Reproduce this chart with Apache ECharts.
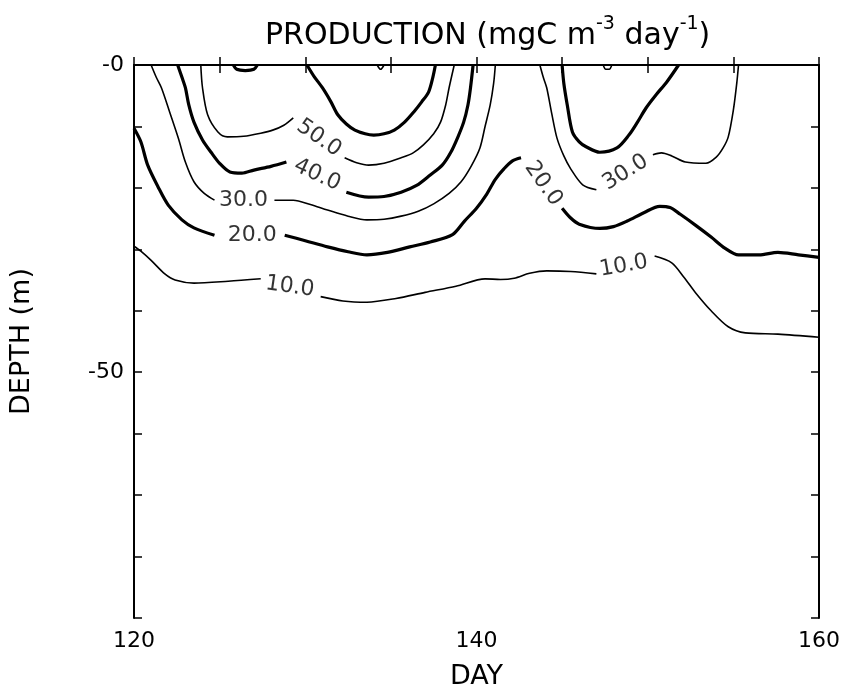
<!DOCTYPE html>
<html>
<head>
<meta charset="utf-8">
<script src="https://cdn.jsdelivr.net/npm/echarts@6/dist/echarts.min.js"></script>
<style>html,body{margin:0;padding:0;background:#fff}#c{width:843px;height:698px}</style>
</head>
<body>
<div id="c"></div>
<script>
// ---- axis ticks / labels ----
const xTickLabels = [120, 140, 160];
const yTickLabels = {"0": "-0", "-50": "-50"};

// ---- contour lines (day, depth) ----
const c10_a = [[120.0,-29.5],[120.4,-30.3],[121.0,-31.8],[121.8,-34.0],[122.4,-35.0],[123.5,-35.5],[125.5,-35.2],[127.4,-34.8]];
const c10_b = [[130.9,-37.7],[132.2,-38.4],[133.6,-38.6],[135.3,-38.0],[137.0,-37.0],[138.8,-36.0],[140.5,-34.8],[141.4,-34.9],[142.2,-34.7],[143.1,-33.9],[144.1,-33.5],[145.5,-33.6],[147.0,-34.0]];
const c10_c = [[150.4,-31.1],[151.4,-32.2],[152.1,-34.5],[152.8,-37.1],[153.7,-40.0],[154.7,-42.6],[155.7,-43.6],[157.6,-43.8],[160.0,-44.3]];

const c20_a = [[120.0,-10.3],[120.4,-12.5],[120.8,-16.3],[121.4,-19.8],[122.0,-22.8],[122.8,-25.2],[123.5,-26.5],[124.7,-27.7]];
const c20_b = [[128.8,-27.7],[130.0,-28.6],[131.3,-29.6],[132.5,-30.4],[133.6,-30.9],[134.8,-30.5],[136.1,-29.6],[137.3,-28.8],[138.6,-27.6],[139.3,-25.4],[140.0,-23.3],[140.6,-21.0],[141.1,-18.6],[141.6,-16.9],[142.1,-15.6],[142.6,-15.1]];
const c20_c = [[145.0,-23.3],[145.5,-24.9],[146.0,-25.9],[147.2,-26.6],[148.0,-26.3],[148.8,-25.4],[149.8,-24.0],[150.7,-23.0],[151.3,-23.2],[151.9,-24.3],[152.8,-26.1],[153.7,-28.0],[154.5,-29.8],[155.3,-30.9],[156.5,-30.9],[157.6,-30.5],[158.8,-30.9],[160.0,-31.3]];

const c30_a = [[121.0,0],[121.3,-2.0],[121.6,-3.7],[122.1,-7.8],[122.6,-12.0],[123.0,-15.8],[123.5,-19.0],[124.1,-20.9],[124.7,-22.0]];
const c30_b = [[128.2,-22.0],[129.3,-22.0],[130.3,-22.7],[131.3,-23.6],[132.5,-24.6],[133.6,-25.2],[134.6,-25.1],[135.6,-24.6],[136.6,-23.8],[137.5,-22.6],[138.4,-20.9],[139.1,-19.0],[139.7,-16.4],[140.2,-13.5],[140.5,-10.0],[140.8,-6.5],[141.0,-3.0],[141.1,0]];
const c30_c = [[143.7,0],[143.9,-2.0],[144.1,-3.7],[144.4,-8.0],[144.7,-11.9],[145.1,-14.8],[145.5,-16.9],[146.2,-19.5],[147.0,-20.3]];
const c30_d = [[150.3,-14.6],[150.8,-14.3],[151.4,-14.8],[152.2,-15.8],[153.4,-16.0],[154.0,-15.0],[154.4,-13.5],[154.7,-11.7],[155.0,-7.3],[155.2,-2.9],[155.3,0]];

const c40_a = [[122.55,0],[122.8,-2.0],[123.0,-3.7],[123.2,-6.5],[123.5,-9.3],[124.0,-12.2],[124.5,-14.2],[125.0,-16.0],[125.6,-17.4],[126.3,-17.6],[127.0,-17.1],[128.0,-16.5],[128.9,-15.8]];
const c40_b = [[132.4,-20.7],[133.7,-21.5],[134.6,-21.4],[135.6,-20.7],[136.5,-19.6],[137.3,-17.9],[138.0,-16.3],[138.5,-14.2],[138.9,-11.8],[139.25,-9.3],[139.5,-6.5],[139.65,-3.7],[139.8,0]];
const c40_c = [[145.0,0],[145.1,-3.0],[145.3,-6.5],[145.6,-10.9],[146.0,-12.5],[146.4,-13.3],[147.2,-14.2],[148.2,-13.5],[148.9,-11.4],[149.4,-9.3],[149.9,-7.0],[150.5,-4.8],[151.1,-2.8],[151.8,0]];

const c50_a = [[123.9,0],[124.0,-3.7],[124.3,-8.1],[124.9,-10.9],[125.45,-11.7],[126.4,-11.6],[127.4,-11.1],[128.1,-10.6],[128.75,-9.8],[129.3,-8.6]];
const c50_b = [[132.3,-15.1],[133.0,-15.9],[133.7,-16.3],[134.6,-16.0],[135.6,-15.1],[136.3,-14.3],[136.9,-13.0],[137.5,-11.2],[137.9,-9.3],[138.2,-6.5],[138.4,-3.7],[138.7,0]];
const c50_c = [[147.4,0],[147.55,-0.7],[147.75,-0.7],[147.9,0]];

const c60_a = [[130.1,0],[130.5,-1.8],[131.0,-3.7],[131.5,-6.0],[131.9,-8.1],[132.4,-9.6],[132.9,-10.6],[133.5,-11.2],[134.0,-11.4],[134.6,-11.2],[135.2,-10.6],[135.8,-9.3],[136.35,-7.6],[136.8,-6.0],[137.2,-4.4],[137.45,-2.0],[137.6,0]];
const c60_b = [[125.8,0],[126.0,-0.7],[126.5,-0.9],[127.0,-0.7],[127.2,0]];
const c70_a = [[134.2,0],[134.4,-0.7],[134.6,0]];

// contour levels: value, heavy line?, segments
const contours = [
  {level: 10, heavy: false, segs: [c10_a, c10_b, c10_c]},
  {level: 20, heavy: true,  segs: [c20_a, c20_b, c20_c]},
  {level: 30, heavy: false, segs: [c30_a, c30_b, c30_c, c30_d]},
  {level: 40, heavy: true,  segs: [c40_a, c40_b, c40_c]},
  {level: 50, heavy: false, segs: [c50_a, c50_b, c50_c]},
  {level: 60, heavy: true,  segs: [c60_a, c60_b]},
  {level: 70, heavy: false, segs: [c70_a]}
];

// contour labels: text, position (day, depth), angle
const labelText = ["10.0", "10.0", "20.0", "20.0", "30.0", "30.0", "40.0", "50.0"];
const labelPos  = [[129.1,-36.1],[148.6,-32.7],[126.9,-27.7],[143.9,-19.3],[126.4,-22.0],[148.7,-17.5],[130.7,-17.9],[130.8,-11.9]];
const labelAngle = [-8, 10, 0, -55, 0, 32, -25, -35];

const FONT = 'DejaVu Sans';
const series = [];
contours.forEach(c => {
  c.segs.forEach(s => {
    series.push({
      type: 'line', data: s, showSymbol: false, smooth: 0.3, clip: true,
      lineStyle: {color: '#000', width: c.heavy ? 3.2 : 1.6},
      silent: true, z: 3
    });
  });
});
series.push({
  type: 'scatter', symbolSize: 0, silent: true, z: 5,
  itemStyle: {color: '#000'},
  data: labelText.map((t, i) => ({
    value: labelPos[i],
    label: {show: true, position: 'inside', formatter: t, rotate: labelAngle[i],
            color: '#000', textBorderWidth: 0}
  })),
  label: {color: '#000', fontSize: 22, fontFamily: FONT, textBorderWidth: 0}
});

const tickStyle = {inside: true, length: 8, lineStyle: {color: '#000', width: 1.5}};
const lineStyle = {show: true, lineStyle: {color: '#000', width: 2}};

const chart = echarts.init(document.getElementById('c'), null, {renderer: 'canvas'});
chart.setOption({
  backgroundColor: '#fff',
  animation: false,
  title: {
    text: '{a|PRODUCTION (mgC m}{s|-3}{a| day}{s|-1}{a|)}',
    left: 260, top: 10,
    textStyle: {
      rich: {
        a: {fontSize: 30, fontFamily: FONT, color: '#000', fontWeight: 'normal'},
        s: {fontSize: 19, fontFamily: FONT, color: '#000', fontWeight: 'normal', padding: [0, 0, 24, 0]}
      }
    }
  },
  grid: {left: 131, right: 22, top: 65, bottom: 80},
  xAxis: [
    {type: 'value', position: 'bottom', min: 120, max: 160, interval: 5,
     axisLine: lineStyle, axisTick: tickStyle, splitLine: {show: false},
     axisLabel: {color: '#000', fontSize: 22, fontFamily: FONT, margin: 12,
       formatter: v => xTickLabels.indexOf(v) >= 0 ? String(v) : ''},
     name: 'DAY', nameLocation: 'middle', nameGap: 45,
     nameTextStyle: {color: '#000', fontSize: 27, fontFamily: FONT}},
    {type: 'value', position: 'top', min: 120, max: 160, interval: 5,
     axisLine: lineStyle, axisTick: tickStyle, splitLine: {show: false},
     axisLabel: {show: false}}
  ],
  yAxis: [
    {type: 'value', position: 'left', min: -90, max: 0, interval: 10,
     axisLine: lineStyle, axisTick: tickStyle, splitLine: {show: false},
     axisLabel: {color: '#000', fontSize: 22, fontFamily: FONT, margin: 10,
       formatter: v => (yTickLabels[String(v)] !== undefined ? yTickLabels[String(v)] : '')},
     name: 'DEPTH (m)', nameLocation: 'middle', nameGap: 99, nameRotate: 90,
     nameTextStyle: {color: '#000', fontSize: 27, fontFamily: FONT}},
    {type: 'value', position: 'right', min: -90, max: 0, interval: 10,
     axisLine: lineStyle, axisTick: tickStyle, splitLine: {show: false},
     axisLabel: {show: false}}
  ],
  series: series
});
</script>
</body>
</html>
